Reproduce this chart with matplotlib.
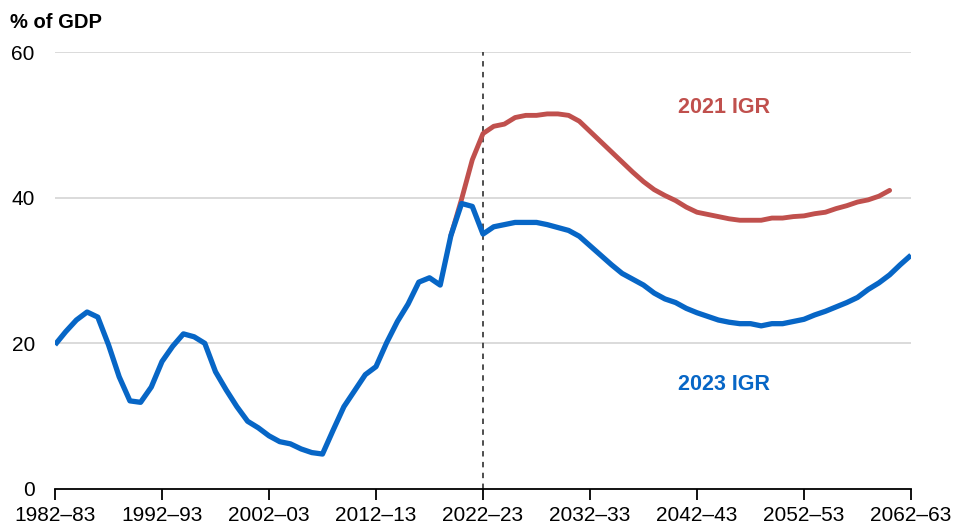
import matplotlib
matplotlib.use("Agg")
import matplotlib.pyplot as plt

plt.rcParams['font.family'] = ['Liberation Sans', 'DejaVu Sans']

start_year = 1982
n_years = 81
years = [f"{y}\u2013{str(y + 1)[-2:]}" for y in range(start_year, start_year + n_years)]

igr2023 = [19.8, 21.6, 23.2, 24.3, 23.6, 19.8, 15.4, 12.1, 11.9, 14.0,
           17.5, 19.6, 21.3, 20.9, 20.0, 16.1, 13.6, 11.3, 9.3, 8.4,
           7.3, 6.5, 6.2, 5.5, 5.0, 4.8, 8.1, 11.3, 13.5, 15.7,
           16.8, 20.1, 23.0, 25.4, 28.4, 29.0, 28.0, 34.8, 39.2, 38.8,
           35.0, 36.0, 36.3, 36.6, 36.6, 36.6, 36.3, 35.9, 35.5, 34.7,
           33.4, 32.1, 30.8, 29.6, 28.8, 28.0, 26.9, 26.1, 25.6, 24.8,
           24.2, 23.7, 23.2, 22.9, 22.7, 22.7, 22.4, 22.7, 22.7, 23.0,
           23.3, 23.9, 24.4, 25.0, 25.6, 26.3, 27.4, 28.3, 29.4, 30.8,
           32.1]

igr2021_start = 37
igr2021 = [34.8, 39.8, 45.2, 48.8, 49.8, 50.1, 51.0, 51.3, 51.3, 51.5,
           51.5, 51.3, 50.5, 49.1, 47.7, 46.3, 44.9, 43.5, 42.2, 41.1,
           40.3, 39.6, 38.7, 38.0, 37.7, 37.4, 37.1, 36.9, 36.9, 36.9,
           37.2, 37.2, 37.4, 37.5, 37.8, 38.0, 38.5, 38.9, 39.4, 39.7,
           40.2, 41.0]

tick_labels = years[::10]
divider_label = "2022\u201323"
yticks = [0, 20, 40, 60]

blue = '#0766c6'
red = '#c0504d'

fig = plt.figure(figsize=(9.57, 5.23), dpi=100)
ax = fig.add_axes([55 / 957, 1 - 489 / 523, (911 - 55) / 957, (489 - 52) / 523])

x_all = list(range(n_years))
x_red = list(range(igr2021_start, igr2021_start + len(igr2021)))

ax.plot(x_red, igr2021, color=red, lw=3.5, solid_capstyle='round', zorder=3)
ax.plot(x_all, igr2023, color=blue, lw=3.8, solid_capstyle='butt', zorder=4)

div_x = years.index(divider_label)
ax.plot([div_x, div_x], [0, 60], color='#404040', lw=1.3, ls=(0, (3, 3)), zorder=2)

ax.set_xlim(0, n_years - 1)
ax.set_ylim(0, 60)
ax.set_yticks(yticks)
ax.set_yticklabels([str(v) for v in yticks], fontsize=15)
ax.set_xticks(list(range(0, n_years, 10)))
ax.set_xticklabels(tick_labels, fontsize=15)
ax.tick_params(axis='y', length=0, pad=14.5)
ax.tick_params(axis='x', length=8, width=1.3, direction='out', pad=4)

for v in yticks[1:]:
    ax.axhline(v, color='#d4d4d4', lw=1.2, zorder=1)

for s in ['top', 'right', 'left']:
    ax.spines[s].set_visible(False)
ax.spines['bottom'].set_linewidth(1.3)
ax.spines['bottom'].set_zorder(5)

ax.text(62.5, 52.4, "2021 IGR", color=red, fontsize=15.5, fontweight='bold',
        ha='center', va='center')
ax.text(62.5, 14.3, "2023 IGR", color=blue, fontsize=15.5, fontweight='bold',
        ha='center', va='center')

fig.text(10 / 957, 1 - 22 / 523, "% of GDP", fontsize=14.5, fontweight='bold',
         ha='left', va='center')

fig.savefig("out.png", dpi=100)
